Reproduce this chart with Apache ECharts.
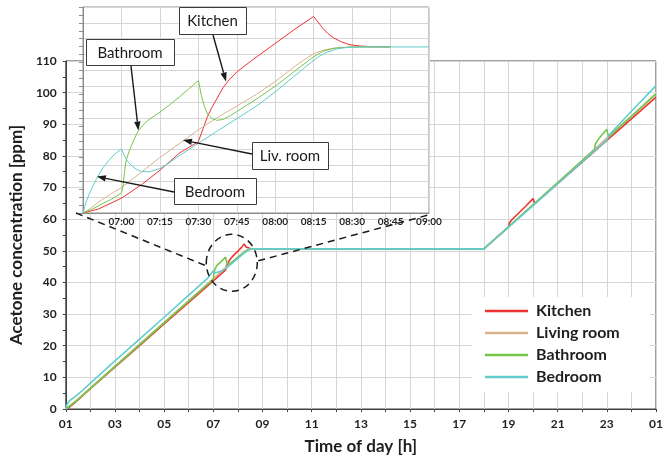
<!DOCTYPE html>
<html>
<head>
<meta charset="utf-8">
<script src="https://cdn.jsdelivr.net/npm/echarts@6/dist/echarts.min.js"></script>
<style>html,body{margin:0;padding:0;background:#fff}#c{width:672px;height:460px}</style>
</head>
<body>
<div id="c"></div>
<script>
// ---------- data (hours of day, ppm) ----------
const seriesNames = ['Kitchen', 'Living room', 'Bathroom', 'Bedroom'];
const seriesColors = ['#ee3333', '#d9b48c', '#76c54b', '#63cccc'];

const mainKitchen = [[1.07,0],[1.5,2.9],[2,6.4],[3,13.2],[4,20.0],[5,26.9],[6,33.7],[7,40.5],[7.5,44.0],[7.53,45.2],[7.6,46.3],[7.7,47.5],[7.85,48.8],[8.0,49.9],[8.15,51.1],[8.25,52.2],[8.28,51.7],[8.33,51.2],[8.4,50.9],[8.5,50.7],[8.7,50.6],[18,50.6],[19,57.5],[19.04,58.8],[19.15,59.9],[19.4,61.8],[19.7,64.1],[20.0,66.5],[20.07,64.9],[21,71.2],[22,78.0],[23,84.9],[24,91.7],[25,98.6]];
const mainLiving = [[1.0,0],[1.5,3.2],[2,6.7],[3,13.6],[4,20.5],[5,27.4],[6,34.3],[7,41.2],[7.5,44.7],[8.0,48.1],[8.25,49.7],[8.4,50.4],[8.6,50.6],[18,50.6],[19,57.6],[20,64.6],[21,71.6],[22,78.6],[23,85.6],[24,92.6],[25,99.7]];
const mainBathroom = [[1.0,0],[1.5,3.0],[2,6.5],[3,13.4],[4,20.3],[5,27.2],[6,34.1],[7,41.0],[7.02,42.7],[7.07,44.3],[7.15,45.4],[7.3,46.5],[7.5,48.0],[7.53,46.8],[7.58,45.6],[7.65,45.6],[7.75,46.3],[8.0,47.9],[8.25,49.5],[8.4,50.3],[8.6,50.6],[18,50.6],[19,57.6],[20,64.5],[21,71.5],[22,78.5],[22.5,82.0],[22.53,83.6],[22.65,85.2],[22.8,86.6],[23.0,88.4],[23.07,86.0],[24,92.5],[25,99.6]];
const mainBedroom = [[1.0,0],[1.04,1.2],[1.1,2.1],[1.2,2.9],[1.4,4.1],[1.7,6.0],[2,8.2],[3,15.2],[4,22.1],[5,29.0],[6,36.0],[6.75,41.2],[7.0,43.7],[7.05,43.0],[7.13,42.8],[7.3,43.5],[7.5,44.4],[8.0,47.6],[8.25,49.3],[8.45,50.4],[8.6,50.6],[18,50.6],[19,57.4],[20,64.3],[21,71.2],[22,78.1],[22.5,81.6],[23,85.0],[23.08,85.6],[23.13,86.9],[24,94.1],[25,102.2]];

// inset (06:45 - 09:00)
const insetKitchen = [[6.75,40],[6.85,40.25],[6.95,40.7],[7.0,40.94],[7.13,41.78],[7.25,42.7],[7.38,43.8],[7.5,44.5],[7.53,45.3],[7.56,46.1],[7.59,46.7],[7.62,47.2],[7.66,47.9],[7.7,48.4],[7.75,48.9],[7.81,49.35],[7.9,50.0],[8.0,50.7],[8.12,51.55],[8.25,52.4],[8.27,52.15],[8.29,51.9],[8.31,51.65],[8.34,51.35],[8.38,51.05],[8.43,50.8],[8.48,50.63],[8.55,50.54],[8.63,50.49],[8.75,50.48]];
const insetLiving = [[6.75,40],[6.8,40.3],[6.86,40.75],[6.93,41.2],[7.0,41.6],[7.12,42.5],[7.25,43.5],[7.38,44.4],[7.5,45.25],[7.62,46.0],[7.75,46.75],[7.88,47.5],[8.0,48.3],[8.12,49.2],[8.2,49.75],[8.26,50.1],[8.33,50.32],[8.42,50.44],[8.5,50.48],[8.75,50.48]];
const insetBathroom = [[6.75,40],[6.8,40.2],[6.86,40.5],[6.93,40.85],[7.0,41.26],[7.01,41.7],[7.02,42.6],[7.03,43.3],[7.05,43.9],[7.08,44.6],[7.11,45.2],[7.14,45.55],[7.18,45.9],[7.24,46.3],[7.31,46.8],[7.38,47.35],[7.44,47.85],[7.5,48.35],[7.51,47.9],[7.52,47.4],[7.54,46.7],[7.56,46.25],[7.59,45.95],[7.62,45.85],[7.66,45.9],[7.71,46.15],[7.75,46.4],[7.88,47.2],[8.0,48.0],[8.12,48.9],[8.24,49.8],[8.31,50.2],[8.38,50.4],[8.5,50.48],[8.75,50.48]];
const insetBedroom = [[6.75,40],[6.77,40.7],[6.8,41.4],[6.84,42.2],[6.88,42.85],[6.92,43.35],[6.96,43.75],[7.0,44.04],[7.02,43.6],[7.04,43.25],[7.07,42.95],[7.1,42.75],[7.13,42.62],[7.18,42.6],[7.25,42.8],[7.3,43.1],[7.36,43.5],[7.5,44.4],[7.62,45.15],[7.79,46.2],[7.9,46.9],[8.0,47.65],[8.12,48.6],[8.22,49.4],[8.28,49.85],[8.33,50.12],[8.4,50.35],[8.46,50.44],[8.55,50.48],[9.0,50.48]];

// callouts inside the inset: label text and the (time, ppm) point each arrow points at
const calloutLabels = ['Kitchen', 'Bathroom', 'Liv. room', 'Bedroom'];
const calloutTargets = [[7.68,48.3],[7.11,45.2],[7.40,44.6],[6.84,42.3]];
// the zoomed region of the main chart (centre, in hours / ppm)
const zoomCentre = [7.75, 46.2];

// ---------- chart ----------
const FONT = 'Lato, "Open Sans", sans-serif';
const TXT = '#1f1f1f';
const pad2 = n => (n < 10 ? '0' : '') + n;

const mainSets = [mainKitchen, mainLiving, mainBathroom, mainBedroom];
const insetSets = [insetKitchen, insetLiving, insetBathroom, insetBedroom];

const series = [];
mainSets.forEach((d, i) => series.push({
  name: seriesNames[i], type: 'line', xAxisIndex: 0, yAxisIndex: 0, data: d,
  symbol: 'none', showSymbol: false, color: seriesColors[i],
  lineStyle: { width: 1.6, color: seriesColors[i] }, z: 2
}));
insetSets.forEach((d, i) => series.push({
  name: seriesNames[i] + ' (detail)', type: 'line', xAxisIndex: 1, yAxisIndex: 1, data: d,
  symbol: 'none', showSymbol: false, color: seriesColors[i],
  lineStyle: { width: 1, color: seriesColors[i] }, z: 4
}));

const chart = echarts.init(document.getElementById('c'), null, { renderer: 'canvas' });
chart.setOption({
  animation: false,
  textStyle: { fontFamily: FONT },
  grid: [
    { left: 65, top: 61, width: 591, height: 349, show: true, borderColor: '#404040', borderWidth: 1, backgroundColor: 'transparent', z: 0 },
    { left: 83, top: 7, width: 346, height: 206, show: true, backgroundColor: '#ffffff', borderColor: '#8c8c8c', borderWidth: 1, z: 3 }
  ],
  xAxis: [
    { type: 'value', gridIndex: 0, min: 1, max: 25, interval: 1,
      name: 'Time of day [h]', nameLocation: 'middle', nameGap: 29,
      nameTextStyle: { fontSize: 17, fontWeight: 'bold', color: TXT, fontFamily: FONT },
      axisLine: { lineStyle: { color: '#404040' } },
      axisTick: { show: true, length: 3, lineStyle: { color: '#404040' } },
      axisLabel: { fontSize: 12, fontWeight: 'bold', color: TXT, margin: 9, fontFamily: FONT,
        formatter: v => (Math.round(v) % 2 === 1 ? pad2(Math.round(v) % 24) : '') },
      splitLine: { show: true, lineStyle: { color: '#d6d6d6' } } },
    { type: 'value', gridIndex: 1, min: 6.75, max: 9, interval: 0.25, z: 3,
      axisLine: { show: true, lineStyle: { color: '#8c8c8c' } },
      axisTick: { show: false },
      axisLabel: { fontSize: 10, fontWeight: 'bold', color: TXT, margin: 4, fontFamily: FONT,
        formatter: v => { if (v < 6.9) return ''; const h = Math.floor(v + 1e-6); const m = Math.round((v - h) * 60); return pad2(h) + ':' + pad2(m); } },
      splitLine: { show: true, lineStyle: { color: '#d6d6d6' } } }
  ],
  yAxis: [
    { type: 'value', gridIndex: 0, min: 0, max: 110, interval: 10,
      name: 'Acetone concentration [ppm]', nameLocation: 'middle', nameGap: 27,
      nameTextStyle: { fontSize: 17, fontWeight: 'bold', color: TXT, fontFamily: FONT },
      axisLine: { show: true, lineStyle: { color: '#404040' } },
      axisTick: { show: true, length: 3, lineStyle: { color: '#404040' } },
      minorTick: { show: true, splitNumber: 2, length: 3, lineStyle: { color: '#404040' } },
      axisLabel: { fontSize: 12, fontWeight: 'bold', color: TXT, margin: 9, fontFamily: FONT },
      splitLine: { show: true, lineStyle: { color: '#d6d6d6' } } },
    { type: 'value', gridIndex: 1, min: 40, max: 53, interval: 1, z: 3,
      axisLine: { show: true, lineStyle: { color: '#8c8c8c' } },
      axisTick: { show: true, length: 4, lineStyle: { color: '#8c8c8c' } },
      minorTick: { show: true, splitNumber: 2, length: 4, lineStyle: { color: '#8c8c8c' } },
      axisLabel: { show: false },
      splitLine: { show: true, lineStyle: { color: '#d6d6d6' } } }
  ],
  legend: {
    data: seriesNames, orient: 'vertical', left: 472, top: 297, z: 6,
    backgroundColor: '#ffffff', padding: [5, 30, 6, 13],
    icon: 'rect', itemWidth: 43, itemHeight: 2.5, itemGap: 4,
    textStyle: { fontSize: 16, fontWeight: 'bold', color: TXT, fontFamily: FONT, lineHeight: 18, padding: [0, 0, 0, 3] }
  },
  series: series
});

// ---------- decorations: zoom circle, connectors, callouts ----------
const P0 = p => chart.convertToPixel({ gridIndex: 0 }, p);
const P1 = p => chart.convertToPixel({ gridIndex: 1 }, p);
const c = P0(zoomCentre);
const rx = 25.5, ry = 28.5;
const insetBL = P1([6.75, 40]);
const insetBR = P1([9, 40]);
const dash = { stroke: '#1a1a1a', lineWidth: 1.5, lineDash: [7, 5], fill: null };

const boxes = [
  { x: 179, y: 7, w: 67, h: 27, from: 'bottom', ax: 213 },
  { x: 86, y: 39, w: 88, h: 26, from: 'bottom', ax: 131 },
  { x: 252, y: 142, w: 76, h: 27, from: 'left', ay: 154 },
  { x: 174, y: 178, w: 82, h: 26, from: 'left', ay: 192 }
];

const g = [];
g.push({ type: 'ellipse', shape: { cx: c[0], cy: c[1], rx: rx, ry: ry }, style: dash, z: 10, silent: true });
g.push({ type: 'line', shape: { x1: insetBL[0] - 7, y1: insetBL[1], x2: c[0] - rx, y2: c[1] + 3 }, style: dash, z: 10, silent: true });
g.push({ type: 'line', shape: { x1: c[0] + rx + 1, y1: c[1] - 2, x2: insetBR[0] + 3, y2: insetBR[1] + 1 }, style: dash, z: 10, silent: true });

function arrow(x1, y1, x2, y2) {
  const a = Math.atan2(y2 - y1, x2 - x1), L = 9, W = 3.2;
  const bx = x2 - L * Math.cos(a), by = y2 - L * Math.sin(a);
  const nx = -Math.sin(a), ny = Math.cos(a);
  g.push({ type: 'line', shape: { x1: x1, y1: y1, x2: bx, y2: by }, style: { stroke: '#1a1a1a', lineWidth: 1.4 }, z: 11, silent: true });
  g.push({ type: 'polygon', shape: { points: [[x2, y2], [bx + nx * W, by + ny * W], [bx - nx * W, by - ny * W]] }, style: { fill: '#1a1a1a' }, z: 11, silent: true });
}

boxes.forEach((b, i) => {
  g.push({ type: 'rect', shape: { x: b.x + 0.5, y: b.y + 0.5, width: b.w, height: b.h }, style: { fill: '#ffffff', stroke: '#3a3a3a', lineWidth: 1 }, z: 12, silent: true });
  g.push({ type: 'text', x: b.x + b.w / 2, y: b.y + b.h / 2 + 1, style: { text: calloutLabels[i], fill: '#1a1a1a', font: '15px ' + FONT, align: 'center', verticalAlign: 'middle', textAlign: 'center', textVerticalAlign: 'middle' }, z: 13, silent: true });
  const t = P1(calloutTargets[i]);
  if (b.from === 'bottom') arrow(b.ax, b.y + b.h + 1, t[0], t[1]);
  else arrow(b.x, b.ay, t[0], t[1]);
});

chart.setOption({ graphic: { elements: g } });
</script>
</body>
</html>
